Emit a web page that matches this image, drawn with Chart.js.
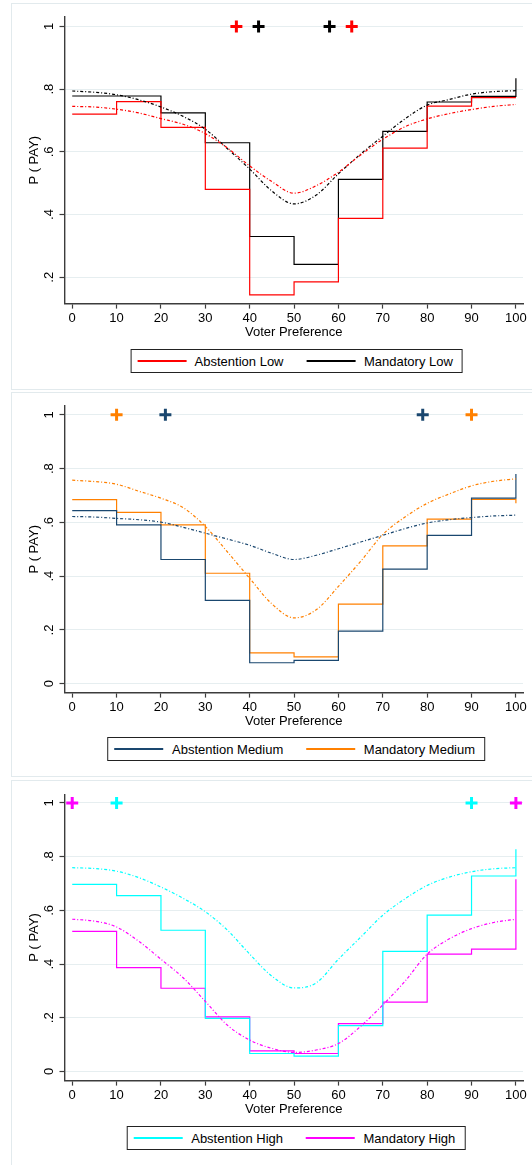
<!DOCTYPE html>
<html>
<head>
<meta charset="utf-8">
<script src="https://cdn.jsdelivr.net/npm/chart.js"></script>
<style>
  html, body { margin: 0; padding: 0; background: #fff; overflow: hidden; }
  body { width: 532px; height: 1165px; position: relative; font-family: "Liberation Sans", Arial, sans-serif; }
  .frame { position: absolute; left: 11px; width: 600px; border: 1.5px solid #e2eaed; box-sizing: border-box; }
  canvas { position: absolute; left: 0; }
  .legend { position: absolute; transform: translateX(-50%); display: grid; grid-template-columns: 1fr 1fr;
            column-gap: 23px; padding: 0 9px 0 6px; height: 24px; align-items: center; border: 1px solid #222;
            box-sizing: border-box; font-size: 13px; color: #000; white-space: nowrap; background: #fff; }
  .item { display: flex; align-items: center; }
  .key { width: 49px; height: 1.3px; margin-right: 8.5px; flex: none; }
</style>
</head>
<body>
<div class="frame" style="top:3px;height:387px"></div>
<div class="frame" style="top:392px;height:385px"></div>
<div class="frame" style="top:780px;height:400px"></div>

<canvas id="low"></canvas>
<canvas id="med"></canvas>
<canvas id="high"></canvas>

<div class="legend" id="legLow" style="left:296.5px;top:349px"></div>
<div class="legend" id="legMed" style="left:296.3px;top:737px"></div>
<div class="legend" id="legHigh" style="left:296px;top:1126px"></div>

<script>
// x positions
const xSteps = [0, 10, 20, 30, 40, 50, 60, 70, 80, 90, 100];
const xFit = [0, 5, 10, 15, 20, 25, 30, 35, 40, 45, 50, 55, 60, 65, 70, 75, 80, 85, 90, 95, 100];
const xTicks = [0, 10, 20, 30, 40, 50, 60, 70, 80, 90, 100];
const yTicksLow = [0.2, 0.4, 0.6, 0.8, 1];
const yTicksFull = [0, 0.2, 0.4, 0.6, 0.8, 1];

// Low
const absLow = [0.720, 0.760, 0.678, 0.480, 0.144, 0.185, 0.388, 0.612, 0.746, 0.773, 0.773];
const manLow = [0.778, 0.778, 0.724, 0.629, 0.330, 0.241, 0.512, 0.665, 0.759, 0.777, 0.835];
const absLowFit = [0.745, 0.743, 0.736, 0.724, 0.706, 0.688, 0.658, 0.612, 0.555, 0.505, 0.468,
                   0.492, 0.535, 0.590, 0.640, 0.680, 0.705, 0.722, 0.735, 0.745, 0.751];
const manLowFit = [0.794, 0.790, 0.782, 0.766, 0.743, 0.713, 0.672, 0.610, 0.545, 0.475, 0.434,
                   0.462, 0.530, 0.593, 0.650, 0.705, 0.749, 0.767, 0.784, 0.792, 0.795];
const absLowMarks = [37, 63];
const manLowMarks = [42, 58];

// Medium
const absMed = [0.644, 0.591, 0.462, 0.310, 0.078, 0.087, 0.196, 0.426, 0.552, 0.690, 0.780];
const manMed = [0.685, 0.637, 0.591, 0.411, 0.115, 0.100, 0.296, 0.513, 0.612, 0.686, 0.671];
const absMedFit = [0.622, 0.620, 0.615, 0.610, 0.601, 0.582, 0.560, 0.538, 0.515, 0.485, 0.462,
                   0.478, 0.502, 0.527, 0.552, 0.577, 0.598, 0.610, 0.618, 0.624, 0.627];
const manMedFit = [0.757, 0.752, 0.742, 0.716, 0.690, 0.655, 0.585, 0.490, 0.392, 0.297, 0.245,
                   0.275, 0.362, 0.455, 0.555, 0.620, 0.671, 0.706, 0.736, 0.753, 0.762];
const absMedMarks = [21, 79];
const manMedMarks = [10, 90];

// High
const absHigh = [0.697, 0.655, 0.526, 0.198, 0.067, 0.057, 0.171, 0.447, 0.582, 0.728, 0.828];
const manHigh = [0.522, 0.387, 0.310, 0.203, 0.077, 0.067, 0.178, 0.258, 0.437, 0.456, 0.716];
const absHighFit = [0.759, 0.756, 0.746, 0.722, 0.687, 0.645, 0.595, 0.526, 0.437, 0.355, 0.311,
                    0.330, 0.418, 0.500, 0.582, 0.643, 0.693, 0.724, 0.744, 0.755, 0.759];
const manHighFit = [0.567, 0.560, 0.538, 0.485, 0.418, 0.349, 0.261, 0.172, 0.117, 0.086, 0.071,
                    0.080, 0.104, 0.168, 0.248, 0.336, 0.437, 0.494, 0.532, 0.555, 0.567];
const absHighMarks = [10, 90];
const manHighMarks = [0, 100];

const FONT = '"Liberation Sans", Arial, sans-serif';
const AXIS = '#3c3c3c';
const GRID = '#e6eef0';

Chart.defaults.font.family = FONT;
Chart.defaults.font.size = 13;
Chart.defaults.color = '#000';

function fmtY(v) {
  if (v === 0) return '0';
  if (v === 1) return '1';
  return v.toFixed(1).replace(/^0/, '');
}

// Stata style rotated y tick labels
const rotatedYLabels = {
  id: 'rotatedYLabels',
  afterDraw(chart) {
    const ys = chart.scales.y;
    const ctx = chart.ctx;
    ctx.save();
    ctx.fillStyle = '#000';
    ctx.font = '13px ' + FONT;
    ctx.textAlign = 'center';
    ctx.textBaseline = 'alphabetic';
    ys.ticks.forEach(t => {
      ctx.save();
      ctx.translate(ys.right - 11.5, ys.getPixelForValue(t.value));
      ctx.rotate(-Math.PI / 2);
      ctx.fillText(fmtY(t.value), 0, 0);
      ctx.restore();
    });
    ctx.restore();
  }
};

function pts(xs, ys) { return xs.map((x, i) => ({ x, y: ys[i] })); }
function marks(xs) { return xs.map(x => ({ x, y: 1 })); }

function stepSet(data, color) {
  return { data: pts(xSteps, data), borderColor: color, borderWidth: 1.2, stepped: 'before',
           pointRadius: 0, fill: false };
}
function fitSet(data, color) {
  return { data: pts(xFit, data), borderColor: color, borderWidth: 1.2, borderDash: [3, 2, 1, 2],
           cubicInterpolationMode: 'monotone', pointRadius: 0, fill: false };
}
function markSet(xs, color) {
  return { data: marks(xs), showLine: false, pointStyle: 'cross', pointRadius: 6,
           pointBorderWidth: 3, pointBorderColor: color, borderColor: color };
}

function makePanel(id, p) {
  const canvas = document.getElementById(id);
  const h = p.bottom - p.top + 36.4 + (p.top - p.canvasTop);
  canvas.width = 532;
  canvas.height = Math.round(h);
  canvas.style.top = p.canvasTop + 'px';
  canvas.style.width = '532px';
  canvas.style.height = Math.round(h) + 'px';

  new Chart(canvas, {
    type: 'line',
    data: {
      datasets: [
        fitSet(p.fitA, p.colA),
        fitSet(p.fitM, p.colM),
        stepSet(p.stepA, p.colA),
        stepSet(p.stepM, p.colM),
        markSet(p.marksA, p.colA),
        markSet(p.marksM, p.colM)
      ]
    },
    options: {
      responsive: false,
      animation: false,
      layout: { padding: { top: p.top - p.canvasTop, left: 27, right: 4, bottom: 0 } },
      plugins: { legend: { display: false }, tooltip: { enabled: false } },
      scales: {
        x: {
          type: 'linear', min: -1.74, max: 101.6,
          afterBuildTicks: s => { s.ticks = xTicks.map(v => ({ value: v })); },
          afterFit: s => { s.height = 36.4; },
          grid: { drawOnChartArea: false, drawTicks: true, tickLength: 5, tickColor: AXIS, tickWidth: 1.2 },
          border: { display: true, color: AXIS, width: 1.4 },
          ticks: { padding: 2, maxRotation: 0, autoSkip: false, callback: v => String(v) },
          title: { display: true, text: 'Voter Preference', padding: 0 }
        },
        y: {
          type: 'linear', min: p.yMin, max: p.yMax,
          afterBuildTicks: s => { s.ticks = p.yTicks.map(v => ({ value: v })); },
          afterFit: s => { s.width = 37.5; },
          grid: { color: GRID, lineWidth: 1, drawTicks: true, tickLength: 5, tickColor: AXIS, tickWidth: 1.2 },
          border: { display: true, color: AXIS, width: 1.4 },
          ticks: { display: false },
          title: { display: true, text: 'P ( PAY)', padding: 0 }
        }
      }
    },
    plugins: [rotatedYLabels]
  });
}

function makeLegend(id, items) {
  const el = document.getElementById(id);
  el.innerHTML = items.map(([label, color]) =>
    '<div class="item"><span class="key" style="background:' + color + '"></span><span>' + label + '</span></div>'
  ).join('');
}

const RED = '#ff0000', BLACK = '#000000', NAVY = '#1a476f', ORANGE = '#ff8000', CYAN = '#00ffff', MAGENTA = '#ff00ff';

makePanel('low', {
  canvasTop: 3, top: 17, bottom: 303.4, yMin: 0.116, yMax: 1.030, yTicks: yTicksLow,
  stepA: absLow, stepM: manLow, fitA: absLowFit, fitM: manLowFit, marksA: absLowMarks, marksM: manLowMarks,
  colA: RED, colM: BLACK
});
makePanel('med', {
  canvasTop: 392, top: 406, bottom: 692.6, yMin: -0.033, yMax: 1.033, yTicks: yTicksFull,
  stepA: absMed, stepM: manMed, fitA: absMedFit, fitM: manMedFit, marksA: absMedMarks, marksM: manMedMarks,
  colA: NAVY, colM: ORANGE
});
makePanel('high', {
  canvasTop: 780, top: 794.4, bottom: 1081, yMin: -0.034, yMax: 1.032, yTicks: yTicksFull,
  stepA: absHigh, stepM: manHigh, fitA: absHighFit, fitM: manHighFit, marksA: absHighMarks, marksM: manHighMarks,
  colA: CYAN, colM: MAGENTA
});

makeLegend('legLow', [['Abstention Low', RED], ['Mandatory Low', BLACK]]);
makeLegend('legMed', [['Abstention Medium', NAVY], ['Mandatory Medium', ORANGE]]);
makeLegend('legHigh', [['Abstention High', CYAN], ['Mandatory High', MAGENTA]]);
</script>
</body>
</html>
